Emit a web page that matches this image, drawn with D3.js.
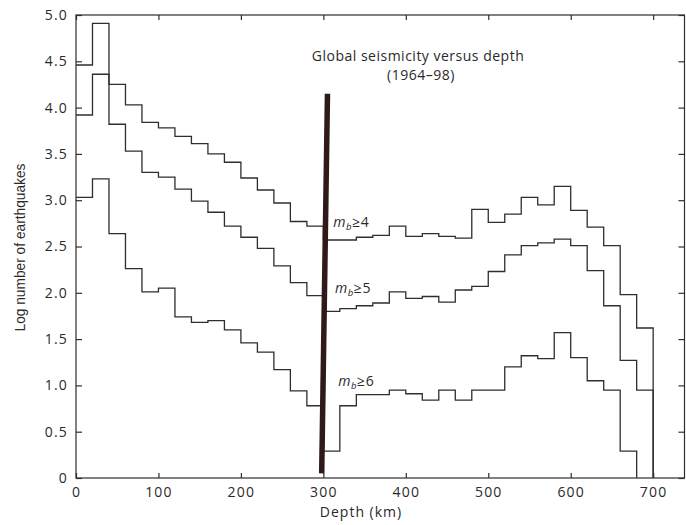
<!DOCTYPE html>
<html>
<head>
<meta charset="utf-8">
<script src="https://cdn.jsdelivr.net/npm/d3@7"></script>
<style>
  body { margin: 0; background: #fff; }
  text { font-family: "Open Sans", "DejaVu Sans", sans-serif; fill: #2a2a2a; }
</style>
</head>
<body>
<svg id="chart" width="686" height="525"></svg>
<script>
// bins are 20 km wide, starting at 0 km
const binWidth = 20;
const mb4 = [4.46, 4.91, 4.25, 4.03, 3.84, 3.78, 3.69, 3.61, 3.50, 3.41, 3.24, 3.11, 2.97, 2.77, 2.72,
             2.57, 2.57, 2.60, 2.62, 2.72, 2.61, 2.64, 2.61, 2.59, 2.90,
             2.76, 2.85, 3.03, 2.95, 3.15, 2.89, 2.71, 2.51, 1.98, 1.62];
const mb5 = [3.92, 4.36, 3.82, 3.53, 3.30, 3.25, 3.12, 2.99, 2.87, 2.72, 2.60, 2.48, 2.29, 2.11, 1.97,
             1.80, 1.83, 1.86, 1.89, 2.01, 1.94, 1.96, 1.90, 2.03, 2.07,
             2.23, 2.41, 2.51, 2.54, 2.58, 2.51, 2.24, 1.86, 1.27, 0.95];
const mb6 = [3.03, 3.23, 2.64, 2.26, 2.01, 2.05, 1.74, 1.68, 1.70, 1.60, 1.46, 1.36, 1.17, 0.94, 0.78,
             0.29, 0.78, 0.90, 0.90, 0.95, 0.91, 0.84, 0.95, 0.84, 0.95,
             0.95, 1.20, 1.32, 1.29, 1.57, 1.30, 1.05, 0.95, 0.29];
const xTicks = [0, 100, 200, 300, 400, 500, 600, 700];
const yTicks = [0, 0.5, 1.0, 1.5, 2.0, 2.5, 3.0, 3.5, 4.0, 4.5, 5.0];
const seriesLabels = [
  { mag: '4', x: 312, y: 2.71 },
  { mag: '5', x: 314, y: 2.0 },
  { mag: '6', x: 318, y: 0.99 }
];
const titleLines = ['Global seismicity versus depth', '(1964–98)'];
// the hand-drawn bar at 300 km
const bar = [[305, 4.15], [298, 0.05]];

const svg = d3.select('#chart');
const margin = { top: 15, right: 1.5, bottom: 47, left: 76 };
const width = 686 - margin.left - margin.right;
const height = 525 - margin.top - margin.bottom;

const x = d3.scaleLinear().domain([0, 738]).range([0, width]);
const y = d3.scaleLinear().domain([0, 5]).range([height, 0]);

const g = svg.append('g').attr('transform', 'translate(' + margin.left + ',' + margin.top + ')');
const ink = '#2e2e2e';

// frame
g.append('rect')
  .attr('x', 0).attr('y', 0).attr('width', width).attr('height', height)
  .attr('fill', 'none').attr('stroke', ink).attr('stroke-width', 1.2);

const yFmt = d => d === 0 ? '0' : d3.format('.1f')(d);

// axes, ticks pointing inward
const axBottom = g.append('g').attr('transform', 'translate(0,' + height + ')')
  .call(d3.axisBottom(x).tickValues(xTicks).tickSize(-5).tickPadding(9).tickFormat(d3.format('d')));
const axTop = g.append('g')
  .call(d3.axisTop(x).tickValues(xTicks).tickSize(-5).tickFormat(''));
const axLeft = g.append('g')
  .call(d3.axisLeft(y).tickValues(yTicks).tickSize(-6).tickPadding(8).tickFormat(yFmt));
const axRight = g.append('g').attr('transform', 'translate(' + width + ',0)')
  .call(d3.axisRight(y).tickValues(yTicks).tickSize(-6).tickFormat(''));

[axBottom, axTop, axLeft, axRight].forEach(a => {
  a.select('.domain').remove();
  a.selectAll('line').attr('stroke', ink).attr('stroke-width', 1.2);
  a.selectAll('text').style('font-size', '14px').attr('fill', '#2a2a2a')
    .style('letter-spacing', '1.2px')
    .style('font-family', '"Open Sans", "DejaVu Sans", sans-serif');
});

// step histograms
const line = d3.line()
  .x(d => x(d[0]))
  .y(d => y(d[1]))
  .curve(d3.curveStepAfter);

[mb4, mb5, mb6].forEach(vals => {
  const pts = vals.map((v, i) => [i * binWidth, v]);
  const end = vals.length * binWidth;
  pts.push([end, vals[vals.length - 1]]);
  pts.push([end, 0]);
  g.append('path')
    .datum(pts)
    .attr('d', line)
    .attr('fill', 'none')
    .attr('stroke', ink)
    .attr('stroke-width', 1.3);
});

// series labels
seriesLabels.forEach(s => {
  const t = g.append('text')
    .attr('x', x(s.x))
    .attr('y', y(s.y))
    .style('font-size', '14px')
    .style('letter-spacing', '0.6px');
  t.append('tspan').text('m').style('font-style', 'italic');
  t.append('tspan').text('b').style('font-style', 'italic').style('font-size', '9.5px').attr('dy', 3);
  t.append('tspan').text('≥' + s.mag).attr('dy', -3);
});

// thick marker bar
g.append('line')
  .attr('x1', x(bar[0][0])).attr('y1', y(bar[0][1]))
  .attr('x2', x(bar[1][0])).attr('y2', y(bar[1][1]))
  .attr('stroke', '#2f1919')
  .attr('stroke-width', 5.5);

// title, two lines
titleLines.forEach((t, i) => {
  g.append('text')
    .attr('x', i === 0 ? 342 : 345)
    .attr('y', 46 + i * 19)
    .attr('text-anchor', 'middle')
    .style('font-size', '14px')
    .style('letter-spacing', '0.5px')
    .text(t);
});

// axis titles
svg.append('text')
  .attr('x', 361).attr('y', 517)
  .attr('text-anchor', 'middle')
  .style('font-size', '14px')
  .style('letter-spacing', '1px')
  .text('Depth (km)');

svg.append('text')
  .attr('transform', 'translate(25,247.5) rotate(-90)')
  .attr('text-anchor', 'middle')
  .attr('textLength', 168)
  .attr('lengthAdjust', 'spacingAndGlyphs')
  .style('font-family', '"Liberation Sans Narrow", "Liberation Sans", sans-serif')
  .style('font-size', '14px')
  .text('Log number of earthquakes');
</script>
</body>
</html>
